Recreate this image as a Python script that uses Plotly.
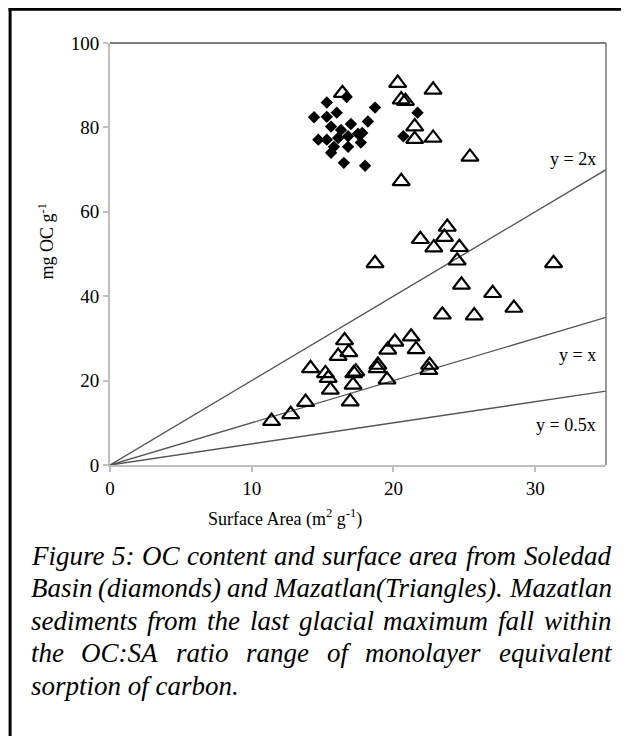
import plotly.graph_objects as go

# Soledad Basin (diamonds)
soledad_sa = [15.3, 14.4, 15.3, 16.0, 15.6, 17.0, 18.2, 18.7, 16.7, 14.7, 15.3, 16.1,
              16.8, 17.5, 15.8, 16.8, 17.7, 16.3, 15.6, 16.5, 18.0, 17.8, 21.7, 20.7]
soledad_oc = [85.9, 82.4, 82.5, 83.5, 80.2, 80.8, 81.4, 84.7, 87.2, 77.1, 77.1, 77.5,
              77.9, 78.5, 75.4, 75.4, 76.4, 79.4, 74.0, 71.6, 70.9, 78.7, 83.5, 77.9]

# Mazatlan (triangles)
mazatlan_sa = [16.4, 20.3, 22.8, 20.55, 20.85, 21.5, 21.5, 22.8, 25.4, 20.55,
               18.7, 21.9, 22.85, 23.6, 23.8, 24.65, 24.5, 24.8, 27.0, 28.5, 23.45, 25.7, 31.3,
               11.4, 12.75, 13.8, 14.15, 15.2, 15.4, 15.55, 16.1, 16.55, 16.85, 16.95, 17.15,
               17.2, 17.35, 18.9, 18.85, 19.55, 19.6, 20.1, 21.25, 21.6, 22.5, 22.55]
mazatlan_oc = [88.1, 90.5, 88.9, 86.6, 86.2, 80.2, 77.2, 77.5, 73.0, 67.2,
               47.8, 53.5, 51.5, 54.0, 56.4, 51.6, 48.4, 42.7, 40.7, 37.2, 35.6, 35.4, 47.8,
               10.4, 12.0, 14.9, 22.9, 21.7, 20.6, 17.8, 25.8, 29.5, 26.7, 15.0, 19.0,
               21.7, 22.1, 23.7, 22.9, 20.2, 27.3, 29.2, 30.4, 27.4, 22.5, 23.7]

# Reference ratio lines
ratio_slopes = [2, 1, 0.5]
ratio_labels = ["y = 2x", "y = x", "y = 0.5x"]
ratio_label_y = [72.6, 26, 9.5]
x_max = 35

x_ticks = [0, 10, 20, 30]
y_ticks = [0, 20, 40, 60, 80, 100]

caption_lines = [
    "Figure 5: OC content and surface area from Soledad",
    "Basin (diamonds) and Mazatlan(Triangles). Mazatlan",
    "sediments from the last glacial maximum fall within",
    "the OC:SA ratio range of monolayer equivalent",
    "sorption of carbon.",
]

FONT = "Liberation Serif"
OFF = 8  # page body margin
W, H = 629 - OFF, 736 - OFF
# plot area in page pixels
PX0, PX1, PY0, PY1 = 109.5, 606, 43.3, 465
L, R, T, B = PX0 - OFF, W - (PX1 - OFF), PY0 - OFF, H - (PY1 - OFF)
pw, ph = W - L - R, H - T - B

def px_to_paper_x(px):
    return (px - OFF - L) / pw

def py_to_paper_y(py):
    return (H - B - (py - OFF)) / ph

# Times-Italic advance widths (per 1000 em) for justification of the caption
TI = {' ': 250, 'a': 500, 'b': 500, 'c': 444, 'd': 500, 'e': 444, 'f': 278, 'g': 500,
      'h': 500, 'i': 278, 'j': 278, 'k': 444, 'l': 278, 'm': 722, 'n': 500, 'o': 500,
      'p': 500, 'q': 500, 'r': 389, 's': 389, 't': 278, 'u': 500, 'v': 444, 'w': 667,
      'x': 444, 'y': 444, 'z': 389, 'A': 611, 'B': 611, 'C': 667, 'D': 722, 'F': 611,
      'M': 833, 'O': 722, 'S': 500, 'T': 556, '5': 500, ':': 333, '.': 250, '(': 333,
      ')': 333}

def tw(s, size):
    return sum(TI.get(c, 500) for c in s) * size / 1000.0

fig = go.Figure()

for s in ratio_slopes:
    fig.add_trace(go.Scatter(x=[0, x_max], y=[0, s * x_max], mode="lines",
                             line=dict(color="#555555", width=1.4),
                             showlegend=False, hoverinfo="skip"))

fig.add_trace(go.Scatter(x=soledad_sa, y=soledad_oc, mode="markers",
                         marker=dict(symbol="diamond", size=9.5, color="black"),
                         name="Soledad Basin", showlegend=False))
fig.add_trace(go.Scatter(x=mazatlan_sa, y=mazatlan_oc, mode="markers",
                         marker=dict(symbol="triangle-up-open", size=15,
                                     color="black", line=dict(width=2.2, color="black")),
                         name="Mazatlan", showlegend=False))

annotations = []
for lab, ly in zip(ratio_labels, ratio_label_y):
    annotations.append(dict(x=34.4, y=ly, xref="x", yref="y", text=lab, showarrow=False,
                            xanchor="right", yanchor="middle",
                            font=dict(family=FONT, size=18, color="black")))

annotations.append(dict(x=px_to_paper_x(285), y=py_to_paper_y(518), xref="paper", yref="paper",
                        text="Surface Area (m<sup>2</sup> g<sup>-1</sup>)", showarrow=False,
                        xanchor="center", yanchor="middle",
                        font=dict(family=FONT, size=18, color="black")))
annotations.append(dict(x=px_to_paper_x(46), y=py_to_paper_y(241), xref="paper", yref="paper",
                        text="mg OC g<sup>-1</sup>", showarrow=False, textangle=-90,
                        xanchor="center", yanchor="middle",
                        font=dict(family=FONT, size=18, color="black")))

CAP_SIZE = 27
CAP_X0, CAP_X1 = 28, 609
cap_y = [556, 588, 621, 653, 686]
for i, (line, cy) in enumerate(zip(caption_lines, cap_y)):
    words = line.split(" ")
    last = i == len(caption_lines) - 1
    if last:
        annotations.append(dict(x=px_to_paper_x(CAP_X0), y=py_to_paper_y(cy), xref="paper",
                                yref="paper", text="<i>" + line + "</i>", showarrow=False,
                                xanchor="left", yanchor="middle",
                                font=dict(family=FONT, size=CAP_SIZE, color="black")))
        continue
    widths = [tw(w, CAP_SIZE) for w in words]
    gap = (CAP_X1 - CAP_X0 - sum(widths)) / (len(words) - 1)
    x = CAP_X0
    for w, wdt in zip(words, widths):
        annotations.append(dict(x=px_to_paper_x(x), y=py_to_paper_y(cy), xref="paper",
                                yref="paper", text="<i>" + w + "</i>", showarrow=False,
                                xanchor="left", yanchor="middle",
                                font=dict(family=FONT, size=CAP_SIZE, color="black")))
        x += wdt + gap

shapes = [
    dict(type="line", xref="paper", yref="paper", x0=0, y0=1, x1=1, y1=1,
         line=dict(color="#555555", width=1.5)),
    dict(type="line", xref="paper", yref="paper", x0=1, y0=0, x1=1, y1=1,
         line=dict(color="#777777", width=1.5)),
    dict(type="line", xref="paper", yref="paper",
         x0=px_to_paper_x(9.5), y0=py_to_paper_y(8), x1=px_to_paper_x(9.5), y1=py_to_paper_y(740),
         line=dict(color="black", width=3)),
    dict(type="line", xref="paper", yref="paper",
         x0=px_to_paper_x(8), y0=py_to_paper_y(9.5), x1=px_to_paper_x(640), y1=py_to_paper_y(9.5),
         line=dict(color="black", width=3)),
]

fig.update_layout(
    width=W, height=H,
    margin=dict(l=L, r=R, t=T, b=B),
    paper_bgcolor="white", plot_bgcolor="white",
    showlegend=False,
    annotations=annotations,
    shapes=shapes,
    font=dict(family=FONT, size=19, color="black"),
)
fig.update_xaxes(range=[0, x_max], tickvals=x_ticks, ticks="outside", ticklen=5,
                 tickcolor="#bfbfbf", tickwidth=1.5, showline=True, linecolor="#bfbfbf",
                 linewidth=2, showgrid=False, zeroline=False,
                 tickfont=dict(family=FONT, size=19, color="black"))
fig.update_yaxes(range=[0, 100], tickvals=y_ticks, ticks="outside", ticklen=5,
                 tickcolor="#bfbfbf", tickwidth=1.5, showline=True, linecolor="#bfbfbf",
                 linewidth=2, showgrid=False, zeroline=False,
                 tickfont=dict(family=FONT, size=19, color="black"))

fig.write_html("out.html")
